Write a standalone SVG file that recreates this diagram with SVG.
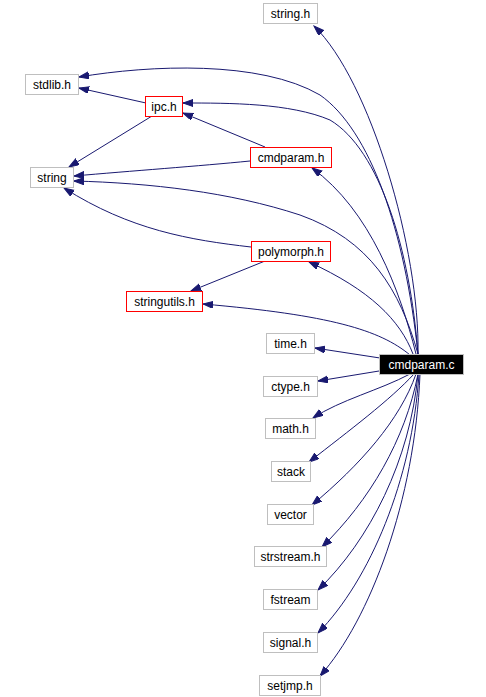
<svg xmlns="http://www.w3.org/2000/svg" width="486" height="697" viewBox="0 0 486 697">
<style>
.n rect{fill:#fff;stroke:#bfbfbf;stroke-width:1}
.n.r rect{stroke:#ff0000}
.n text{font-family:"Liberation Sans",Arial,sans-serif;font-size:12px;fill:#000;text-anchor:middle}
.n.m rect{fill:#000;stroke:#bfbfbf}
.n.m text{fill:#fff}
.e path{fill:none;stroke:#191970;stroke-width:1;marker-end:url(#a)}
</style>
<defs>
<marker id="a" markerUnits="userSpaceOnUse" markerWidth="11" markerHeight="8" refX="10" refY="3.5" orient="auto">
<path d="M0,0 L10,3.5 L0,7 z" fill="#191970" stroke="#191970"/>
</marker>
</defs>
<rect width="486" height="697" fill="#fff"/>
<g id="edges" class="e">
<path d="M418,354 C420,250 370,80 314,26"/>
<path d="M418,354 C405,230 370,130 320,95 C260,60 150,65 79,77"/>
<path d="M418,354 C410,250 380,150 330,120 C290,103 230,103 183,103"/>
<path d="M416,354 C400,290 370,210 312,168"/>
<path d="M418,354 C400,290 370,240 300,215 C230,192 150,183 74,181"/>
<path d="M413,354 C400,320 370,290 309,262"/>
<path d="M410,355 C380,330 330,315 203,304"/>
<path d="M380,358 L315,348"/>
<path d="M379,371 L318,381"/>
<path d="M410,374 C380,390 340,400 313,418"/>
<path d="M414,374 C390,400 350,430 309,462"/>
<path d="M416,374 C400,420 360,465 312,505"/>
<path d="M418,374 C405,440 370,500 322,547"/>
<path d="M418,374 C410,460 370,540 318,590"/>
<path d="M419,374 C412,480 370,580 318,633"/>
<path d="M420,374 C415,500 370,620 320,676"/>
<path d="M146,103 L79,88"/>
<path d="M152,116 L69,167"/>
<path d="M265,147 L183,113"/>
<path d="M250,161 C200,166 130,171 74,176"/>
<path d="M251,247 C190,240 130,230 64,188"/>
<path d="M265,261 L191,291"/>
</g>
<g id="string_h" class="n"><rect x="263.5" y="3.5" width="54" height="20"/><text x="290.5" y="18">string.h</text></g>
<g id="stdlib_h" class="n"><rect x="25.5" y="74.5" width="53" height="20"/><text x="52" y="89">stdlib.h</text></g>
<g id="ipc_h" class="n r"><rect x="145.5" y="96.5" width="37" height="20"/><text x="164" y="111">ipc.h</text></g>
<g id="string" class="n"><rect x="30.5" y="167.5" width="43" height="20"/><text x="52" y="182">string</text></g>
<g id="cmdparam_h" class="n r"><rect x="250.5" y="147.5" width="81" height="20"/><text x="291" y="162">cmdparam.h</text></g>
<g id="polymorph_h" class="n r"><rect x="251.5" y="241.5" width="79" height="20"/><text x="291" y="256">polymorph.h</text></g>
<g id="stringutils_h" class="n r"><rect x="126.5" y="291.5" width="76" height="20"/><text x="164.5" y="306">stringutils.h</text></g>
<g id="time_h" class="n"><rect x="266.5" y="333.5" width="48" height="20"/><text x="290.5" y="348">time.h</text></g>
<g id="cmdparam_c" class="n m"><rect x="379.5" y="354.5" width="84" height="20"/><text x="421.5" y="369">cmdparam.c</text></g>
<g id="ctype_h" class="n"><rect x="263.5" y="376.5" width="54" height="20"/><text x="290.5" y="391">ctype.h</text></g>
<g id="math_h" class="n"><rect x="265.5" y="418.5" width="50" height="20"/><text x="290.5" y="433">math.h</text></g>
<g id="stack" class="n"><rect x="271.5" y="461.5" width="39" height="20"/><text x="291" y="476">stack</text></g>
<g id="vector" class="n"><rect x="267.5" y="504.5" width="46" height="20"/><text x="290.5" y="519">vector</text></g>
<g id="strstream_h" class="n"><rect x="254.5" y="546.5" width="72" height="20"/><text x="290.5" y="561">strstream.h</text></g>
<g id="fstream" class="n"><rect x="263.5" y="589.5" width="54" height="20"/><text x="290.5" y="604">fstream</text></g>
<g id="signal_h" class="n"><rect x="263.5" y="632.5" width="54" height="20"/><text x="290.5" y="647">signal.h</text></g>
<g id="setjmp_h" class="n"><rect x="259.5" y="675.5" width="61" height="20"/><text x="290" y="690">setjmp.h</text></g>
</svg>
